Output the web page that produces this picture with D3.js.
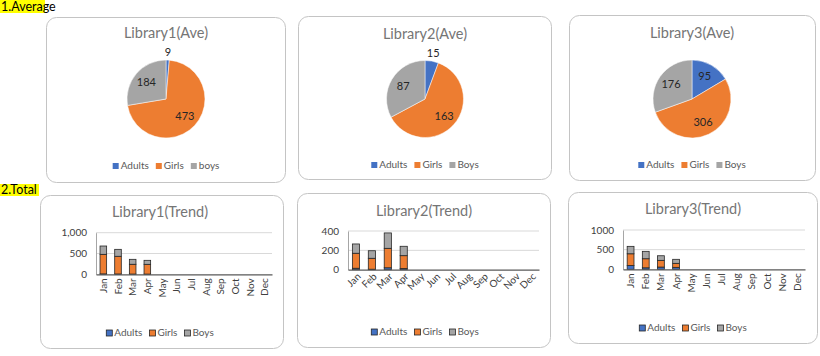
<!DOCTYPE html>
<html><head><meta charset="utf-8">
<script src="https://cdn.jsdelivr.net/npm/d3@7"></script>
<style>body{margin:0;background:#fff}svg{display:block;font-family:Lato,"Open Sans",sans-serif}</style>
</head><body><svg id="c" width="820" height="356"></svg>
<script>
// ---------- data ----------
const seriesNames = ["Adults", "Girls", "Boys"];
const pieLegend1 = ["Adults", "Girls", "boys"];
const lib1Ave = [9, 473, 184];
const lib2Ave = [15, 163, 87];
const lib3Ave = [95, 306, 176];
const months = ["Jan","Feb","Mar","Apr","May","Jun","Jul","Aug","Sep","Oct","Nov","Dec"];
const lib1Adults = [10, 8, 6, 5];
const lib1Girls  = [470, 425, 235, 235];
const lib1Boys   = [200, 167, 119, 96];
const lib2Adults = [15, 5, 20, 12];
const lib2Girls  = [155, 113, 201, 133];
const lib2Boys   = [96, 78, 159, 97];
const lib3Adults = [95, 38, 57, 50];
const lib3Girls  = [300, 231, 171, 102];
const lib3Boys   = [189, 188, 117, 102];
const ticks1 = [0, 500, 1000], tickLabels1 = ["0", "500", "1,000"];
const ticks2 = [0, 200, 400],  tickLabels2 = ["0", "200", "400"];
const ticks3 = [0, 500, 1000], tickLabels3 = ["0", "500", "1000"];
const sectionLabels = ["1.Average", "2.Total"];

const colors = ["#4472C4", "#ED7D31", "#A5A5A5"];
const svg = d3.select("#c");
const FONT = "Lato, 'Open Sans', sans-serif";

// ---------- section labels ----------
function section(text, x, y, w, h) {
  svg.append("rect").attr("x", x).attr("y", y).attr("width", w).attr("height", h).attr("fill", "#FFFF00");
  svg.append("text").attr("x", x + 1).attr("y", y + h - 2.5).attr("font-size", 12.5).attr("fill", "#000").text(text);
}
section(sectionLabels[0], 0, 0, 45, 13);
section(sectionLabels[1], 0, 184, 39, 12);

function box(x, y, w, h) {
  svg.append("rect").attr("x", x + 0.5).attr("y", y + 0.5).attr("width", w).attr("height", h)
    .attr("rx", 10).attr("fill", "#fff").attr("stroke", "#c4c4c4").attr("stroke-width", 1);
}

function legend(g, names, cx, cy, markerStroke) {
  const lg = g.append("g");
  let x = 0;
  names.forEach((n, i) => {
    const it = lg.append("g").attr("transform", `translate(${x},0)`);
    it.append("rect").attr("x", 0).attr("y", cy - 3).attr("width", 6).attr("height", 6)
      .attr("fill", colors[i]).attr("stroke", markerStroke || "none").attr("stroke-width", 0.8);
    const t = it.append("text").attr("x", 8).attr("y", cy + 3.4).attr("font-size", 10).attr("fill", "#595959").text(n);
    x += 8 + t.node().getComputedTextLength() + 7;
  });
  const total = x - 7;
  lg.attr("transform", `translate(${cx - total / 2},0)`);
}

// ---------- pies ----------
const pies = [
  {b: [46, 17, 239, 165], title: "Library1(Ave)", data: lib1Ave, legend: pieLegend1, cx: 166, cy: 99, r: 39, ty: 33, ly: 166},
  {b: [298, 16, 253, 163], title: "Library2(Ave)", data: lib2Ave, legend: seriesNames, cx: 425, cy: 99, r: 38.5, ty: 34, ly: 165},
  {b: [569, 15, 246, 165], title: "Library3(Ave)", data: lib3Ave, legend: seriesNames, cx: 692, cy: 99, r: 39, ty: 33, ly: 165}
];
pies.forEach(p => {
  box(...p.b);
  const g = svg.append("g");
  g.append("text").attr("x", p.cx).attr("y", p.ty + 5).attr("text-anchor", "middle")
    .attr("font-size", 14.5).attr("fill", "#757575").text(p.title);
  const arcs = d3.pie().sort(null).value(d => d)(p.data);
  const arc = d3.arc().innerRadius(0).outerRadius(p.r);
  const pg = g.append("g").attr("transform", `translate(${p.cx},${p.cy})`);
  pg.selectAll("path").data(arcs).join("path").attr("d", arc)
    .attr("fill", (d, i) => colors[i]).attr("stroke", "#fff").attr("stroke-width", 0.5);
  const total = d3.sum(p.data);
  pg.selectAll("text").data(arcs).join("text")
    .attr("transform", d => {
      const a = (d.startAngle + d.endAngle) / 2;
      const dist = d.value / total < 0.08 ? p.r + 8 : p.r * 0.66;
      return `translate(${Math.sin(a) * dist},${-Math.cos(a) * dist})`;
    })
    .attr("text-anchor", "middle").attr("dy", "0.35em").attr("font-size", 11).attr("fill", "#262626")
    .text(d => d.value);
  legend(g, p.legend, p.cx, p.ly);
});

// ---------- bars ----------
const barsCfg = [
  {b: [40, 195, 243, 153], title: "Library1(Trend)", tcx: 160, ty: 212, s: [lib1Adults, lib1Girls, lib1Boys],
   ticks: ticks1, tl: tickLabels1, x0: 96, x1: 272, yTop: 232.7, yBot: 274.3, rot: -90, lcx: 160, ly: 333},
  {b: [297, 193, 253, 154], title: "Library2(Trend)", tcx: 424, ty: 211, s: [lib2Adults, lib2Girls, lib2Boys],
   ticks: ticks2, tl: tickLabels2, x0: 348, x1: 539, yTop: 231, yBot: 269.7, rot: -45, lcx: 425, ly: 332},
  {b: [568, 192, 249, 151], title: "Library3(Trend)", tcx: 693, ty: 209, s: [lib3Adults, lib3Girls, lib3Boys],
   ticks: ticks3, tl: tickLabels3, x0: 623, x1: 805, yTop: 230, yBot: 269.3, rot: -90, lcx: 693, ly: 328}
];
barsCfg.forEach(c => {
  box(...c.b);
  const g = svg.append("g");
  g.append("text").attr("x", c.tcx).attr("y", c.ty + 5).attr("text-anchor", "middle")
    .attr("font-size", 14.5).attr("fill", "#757575").text(c.title);
  const x = d3.scaleBand().domain(months).range([c.x0, c.x1]).paddingInner(0.55).paddingOuter(0.275);
  const y = d3.scaleLinear().domain([0, d3.max(c.ticks)]).range([c.yBot, c.yTop]);
  g.selectAll("line.grid").data(c.ticks.slice(1)).join("line")
    .attr("x1", c.x0).attr("x2", c.x1).attr("y1", d => y(d)).attr("y2", d => y(d))
    .attr("stroke", "#d9d9d9").attr("stroke-width", 1);
  const ya = d3.axisLeft(y).tickValues(c.ticks).tickFormat((d, i) => c.tl[i]).tickSize(0).tickPadding(9);
  const yg = g.append("g").attr("transform", `translate(${c.x0},0)`).call(ya);
  yg.select(".domain").attr("stroke", "#a6a6a6");
  yg.selectAll("text").attr("font-size", 10).attr("fill", "#404040").attr("font-family", FONT);
  const rows = months.map((m, i) => ({m, Adults: c.s[0][i] || 0, Girls: c.s[1][i] || 0, Boys: c.s[2][i] || 0}));
  const stack = d3.stack().keys(seriesNames)(rows.filter(r => r.Adults + r.Girls + r.Boys > 0));
  stack.forEach((layer, si) => {
    g.selectAll(null).data(layer).join("rect")
      .attr("x", d => x(d.data.m)).attr("width", x.bandwidth())
      .attr("y", d => y(d[1])).attr("height", d => y(d[0]) - y(d[1]))
      .attr("fill", colors[si]).attr("stroke", "#262626").attr("stroke-width", 0.8);
  });
  const xa = d3.axisBottom(x).tickSize(0).tickPadding(0);
  const xg = g.append("g").attr("transform", `translate(0,${c.yBot})`).call(xa);
  xg.select(".domain").attr("stroke", "#595959").attr("stroke-width", 1.3);
  xg.selectAll("text").attr("font-size", 10).attr("fill", "#404040").attr("font-family", FONT)
    .attr("text-anchor", "end").attr("dy", "0.35em").attr("y", 0)
    .attr("transform", c.rot === -90 ? "translate(0,4) rotate(-90)" : "translate(3,5) rotate(-45)");
  legend(g, seriesNames, c.lcx, c.ly, "#262626");
});
</script></body></html>
